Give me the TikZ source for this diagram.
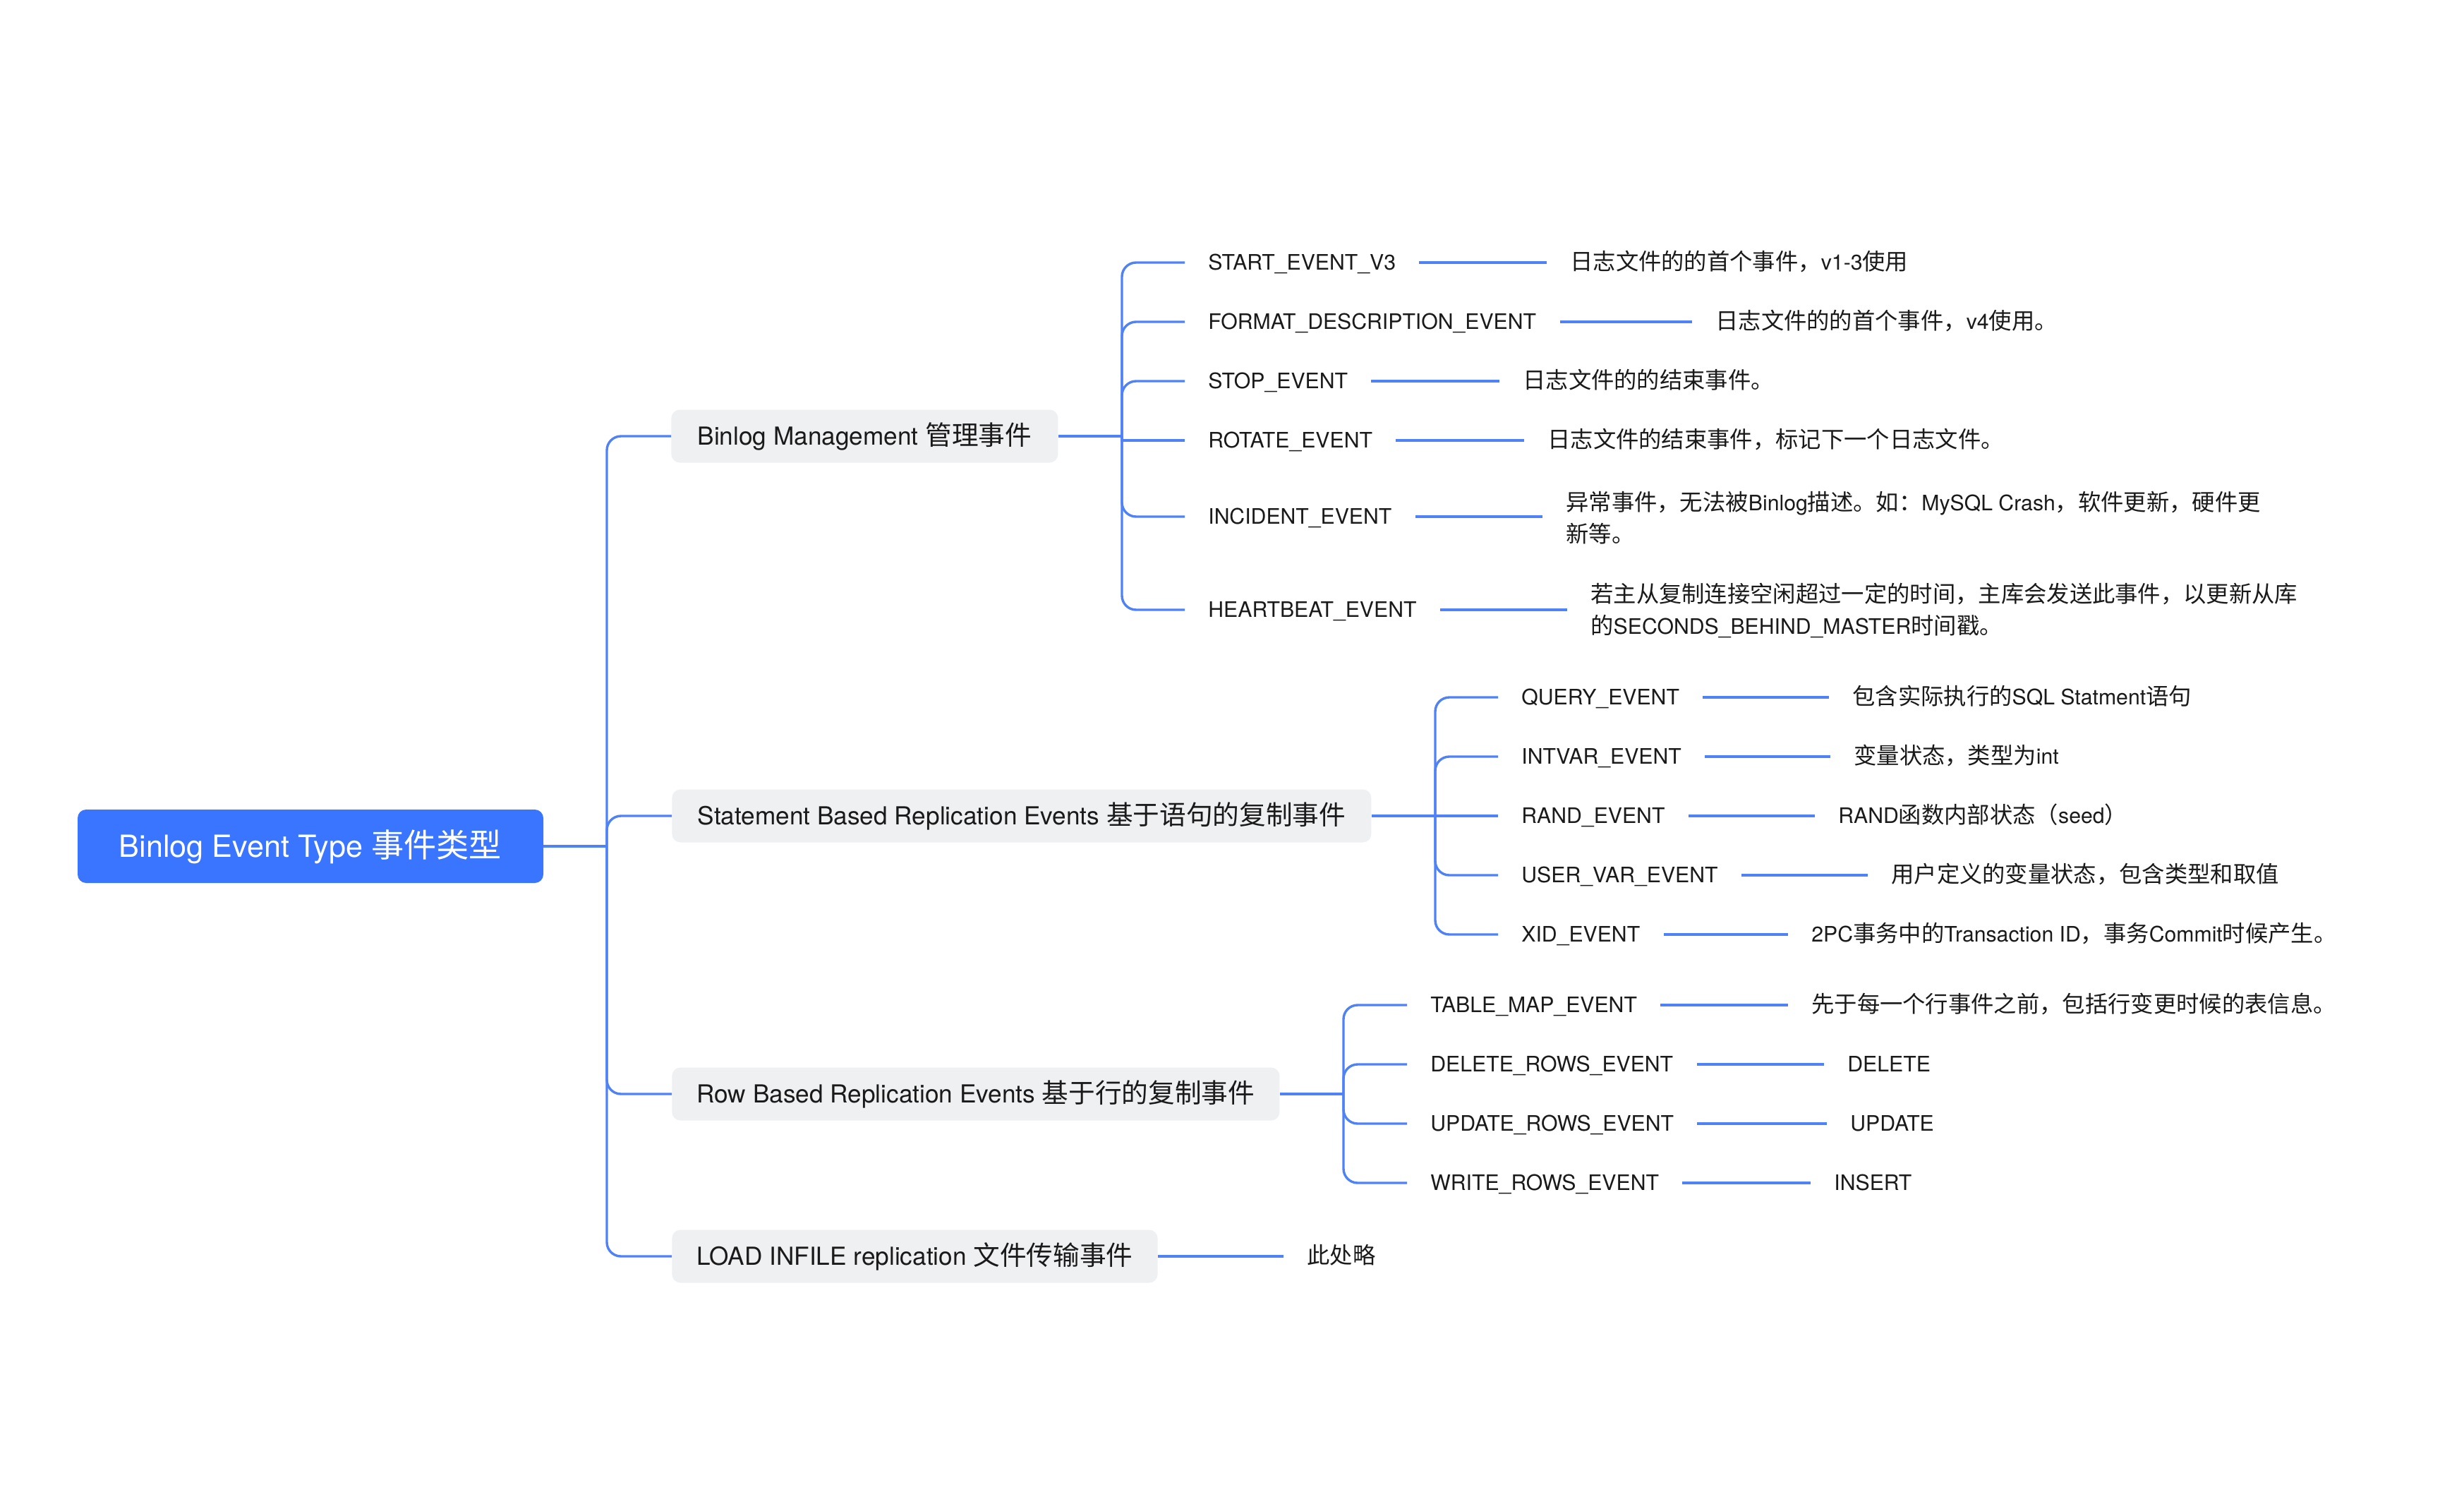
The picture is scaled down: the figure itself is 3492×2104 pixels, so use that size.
\documentclass[tikz,border=0pt]{standalone}
\usepackage{fontspec}
\setmainfont{TeX Gyre Heros}
\newfontfamily\cjkfont[Scale=1.07]{Noto Sans CJK SC}
\newcommand\zh[1]{{\cjkfont #1}}
\usetikzlibrary{backgrounds}
\definecolor{linec}{HTML}{4F82F7}
\definecolor{rootc}{HTML}{3A75FF}
\definecolor{boxc}{HTML}{EFF0F2}
\definecolor{txtc}{HTML}{1A1A1A}
\begin{document}
\begin{tikzpicture}[x=0.5pt,y=-0.5pt,
  ln/.style={draw=linec, line width=1.7pt},
  br/.style={ln, rounded corners=10pt},
  rootbox/.style={fill=rootc, text=white, font=\fontsize{21.6}{26}\selectfont, rounded corners=6pt, minimum width=330pt, minimum height=52pt, inner sep=0pt, text height=15.4pt, text depth=0pt},
  lone/.style={fill=boxc, text=txtc, font=\fontsize{17.6}{21}\selectfont, rounded corners=6pt, minimum height=37.5pt, inner xsep=17.5pt, inner ysep=0pt, text height=12.6pt, text depth=0pt, anchor=west},
  ch/.style={anchor=west, inner xsep=16.5pt, inner ysep=0pt, text=txtc, font=\fontsize{15.1}{22.5}\selectfont},
  one/.style={text height=10.8pt, text depth=0pt}
]
\useasboundingbox[fill=white] (0,0) rectangle (3492,2104);

% root
\node[rootbox] (root) at (440,1199) {Binlog Event Type \zh{事件类型}};
\begin{scope}[on background layer]
\foreach \e in {2,5,8,11,14}{
  \fill[rootc, opacity=0.035, rounded corners=6pt+\e*0.5pt]
    ([xshift=-\e*0.5pt, yshift=-\e*0.5pt-3pt]root.south west) rectangle ([xshift=\e*0.5pt, yshift=\e*0.5pt-3pt]root.north east);
}
\end{scope}

% level 1
\node[lone, minimum width=274pt]   (bm) at (951,618)  {Binlog Management \zh{管理事件}};
\node[lone, minimum width=495.5pt] (sb) at (952,1156) {Statement Based Replication Events \zh{基于语句的复制事件}};
\node[lone, minimum width=430.5pt] (rb) at (952,1550) {Row Based Replication Events \zh{基于行的复制事件}};
\node[lone, minimum width=342.5pt] (ld) at (952,1780) {LOAD INFILE replication \zh{文件传输事件}};

\coordinate (t) at (860,1199);
\draw[ln] (root.east) -- (t);
\draw[br] (t) |- (bm.west);
\draw[br] (t) |- (sb.west);
\draw[br] (t) |- (rb.west);
\draw[br] (t) |- (ld.west);

% Binlog management children
\node[ch,one] (c1) at (1679,372) {START\_EVENT\_V3};
\node[ch,one] (c2) at (1679,456) {FORMAT\_DESCRIPTION\_EVENT};
\node[ch,one] (c3) at (1679,540) {STOP\_EVENT};
\node[ch,one] (c4) at (1679,624) {ROTATE\_EVENT};
\node[ch,one] (c5) at (1679,732) {INCIDENT\_EVENT};
\node[ch,one] (c6) at (1679,864) {HEARTBEAT\_EVENT};

\node[ch,one] (d1) at (2192,372) {\zh{日志文件的的首个事件，}v1-3\zh{使用}};
\node[ch,one] (d2) at (2398,456) {\zh{日志文件的的首个事件，}v4\zh{使用。}};
\node[ch,one] (d3) at (2125,540) {\zh{日志文件的的结束事件。}};
\node[ch,one] (d4) at (2160,624) {\zh{日志文件的结束事件，标记下一个日志文件。}};
\node[ch,align=left] (d5) at (2186,734) {\zh{异常事件，无法被}Binlog\zh{描述。如：}MySQL Crash\zh{，软件更新，硬件更}\\\zh{新等。}};
\node[ch,align=left] (d6) at (2221,865) {\zh{若主从复制连接空闲超过一定的时间，主库会发送此事件，以更新从库}\\\zh{的}SECONDS\_BEHIND\_MASTER\zh{时间戳。}};

\coordinate (bj) at (1590,618);
\draw[ln] (bm.east) -- (bj);
\foreach \n in {c1,c2,c3,c5,c6} \draw[br] (bj) |- (\n.west);
\draw[ln] (bj) |- (c4.west);
\foreach \a/\b in {c1/d1,c2/d2,c3/d3,c4/d4,c5/d5,c6/d6} \draw[ln] (\a.east) -- (\a.east -| \b.west);

% Statement children
\node[ch,one] (s1) at (2123,988)  {QUERY\_EVENT};
\node[ch,one] (s2) at (2123,1072) {INTVAR\_EVENT};
\node[ch,one] (s3) at (2123,1156) {RAND\_EVENT};
\node[ch,one] (s4) at (2123,1240) {USER\_VAR\_EVENT};
\node[ch,one] (s5) at (2123,1324) {XID\_EVENT};

\node[ch,one] (e1) at (2592,988)  {\zh{包含实际执行的}SQL Statment\zh{语句}};
\node[ch,one] (e2) at (2594,1072) {\zh{变量状态，类型为}int};
\node[ch,one] (e3) at (2572,1156) {RAND\zh{函数内部状态（}seed\zh{）}};
\node[ch,one] (e4) at (2647,1240) {\zh{用户定义的变量状态，包含类型和取值}};
\node[ch,one] (e5) at (2534,1324) {2PC\zh{事务中的}Transaction ID\zh{，事务}Commit\zh{时候产生。}};

\coordinate (sj) at (2034,1156);
\draw[ln] (sb.east) -- (sj);
\foreach \n in {s1,s2,s4,s5} \draw[br] (sj) |- (\n.west);
\draw[ln] (sj) -- (s3.west);
\foreach \a/\b in {s1/e1,s2/e2,s3/e3,s4/e4,s5/e5} \draw[ln] (\a.east) -- (\a.east -| \b.west);

% Row children
\node[ch,one] (r1) at (1994,1424) {TABLE\_MAP\_EVENT};
\node[ch,one] (r2) at (1994,1508) {DELETE\_ROWS\_EVENT};
\node[ch,one] (r3) at (1994,1592) {UPDATE\_ROWS\_EVENT};
\node[ch,one] (r4) at (1994,1676) {WRITE\_ROWS\_EVENT};

\node[ch,one] (f1) at (2534,1424) {\zh{先于每一个行事件之前，包括行变更时候的表信息。}};
\node[ch,one] (f2) at (2585,1508) {DELETE};
\node[ch,one] (f3) at (2589,1592) {UPDATE};
\node[ch,one] (f4) at (2566,1676) {INSERT};

\coordinate (rj) at (1904,1550);
\draw[ln] (rb.east) -- (rj);
\foreach \n in {r1,r2,r3,r4} \draw[br] (rj) |- (\n.west);
\foreach \a/\b in {r1/f1,r2/f2,r3/f3,r4/f4} \draw[ln] (\a.east) -- (\a.east -| \b.west);

% LOAD child
\node[ch,one] (lo) at (1819,1780) {\zh{此处略}};
\draw[ln] (ld.east) -- (lo.west);
\end{tikzpicture}
\end{document}
